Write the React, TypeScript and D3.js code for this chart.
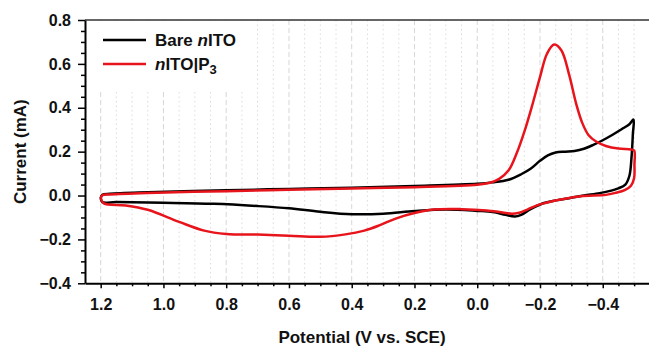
import React, { useEffect, useRef } from "react";
import * as d3 from "d3";

// potential (V vs. SCE), current (mA), upper branch then return branch
const bareE = [1.2, 1.195, 1.17, 1.05, 0.8, 0.6, 0.4, 0.2, 0.0, -0.05, -0.1, -0.14, -0.17, -0.2, -0.225, -0.25, -0.28, -0.31, -0.34, -0.37, -0.4, -0.43, -0.46, -0.485, -0.498,
  -0.496, -0.492, -0.485, -0.472, -0.45, -0.42, -0.39, -0.34, -0.3, -0.25, -0.21, -0.17, -0.14, -0.12, -0.09, -0.05, 0.0, 0.1, 0.2, 0.3, 0.4, 0.5, 0.6, 0.7, 0.84, 1.0, 1.15, 1.195, 1.2];
const bareI = [-0.012, 0.003, 0.008, 0.015, 0.024, 0.03, 0.036, 0.044, 0.054, 0.06, 0.072, 0.097, 0.122, 0.158, 0.183, 0.196, 0.2, 0.203, 0.213, 0.231, 0.252, 0.276, 0.302, 0.325, 0.346,
  0.28, 0.18, 0.09, 0.05, 0.033, 0.02, 0.011, 0.0, -0.01, -0.022, -0.035, -0.062, -0.088, -0.096, -0.088, -0.075, -0.07, -0.064, -0.071, -0.083, -0.085, -0.074, -0.058, -0.048, -0.038, -0.033, -0.03, -0.03, -0.012];

const p3E = [1.2, 1.195, 1.17, 1.05, 0.8, 0.6, 0.4, 0.2, 0.0, -0.04, -0.07, -0.1, -0.125, -0.15, -0.175, -0.2, -0.222, -0.245, -0.268, -0.293, -0.315, -0.335, -0.355, -0.38, -0.41, -0.45, -0.49, -0.5,
  -0.501, -0.5, -0.49, -0.47, -0.44, -0.41, -0.33, -0.27, -0.22, -0.19, -0.16, -0.13, -0.11, -0.07, -0.03, 0.05, 0.14, 0.2, 0.26, 0.31, 0.36, 0.42, 0.5, 0.6, 0.7, 0.8, 0.87, 0.95, 1.05, 1.12, 1.19, 1.2];
const p3I = [-0.012, 0.001, 0.005, 0.012, 0.02, 0.026, 0.032, 0.038, 0.049, 0.058, 0.076, 0.115, 0.19, 0.29, 0.41, 0.54, 0.645, 0.688, 0.662, 0.55, 0.42, 0.33, 0.275, 0.245, 0.226, 0.214, 0.21, 0.205,
  0.14, 0.08, 0.045, 0.025, 0.012, 0.003, -0.003, -0.017, -0.033, -0.045, -0.064, -0.08, -0.083, -0.075, -0.068, -0.062, -0.064, -0.08, -0.105, -0.135, -0.16, -0.177, -0.188, -0.183, -0.178, -0.175, -0.16, -0.12, -0.065, -0.045, -0.036, -0.012];

const xTicks = [1.2, 1.0, 0.8, 0.6, 0.4, 0.2, 0.0, -0.2, -0.4];
const yTicks = [-0.4, -0.2, 0.0, 0.2, 0.4, 0.6, 0.8];

export default function App() {
  const svgRef = useRef(null);

  useEffect(() => {
    const width = 649;
    const height = 347;
    const svg = d3.select(svgRef.current);
    svg.selectAll("*").remove();
    svg.attr("width", width).attr("height", height);

    const x = d3.scaleLinear().domain([1.25, -0.6]).range([85, 665.5]);
    const y = d3.scaleLinear().domain([-0.4, 0.8]).range([283.3, 20]);
    const font = "'Liberation Sans', Arial, sans-serif";

    // vertical grid: dashed at majors, dotted at minors
    const minors = d3.range(-0.55, 1.25, 0.05).map(v => Math.round(v * 100) / 100)
      .filter(v => !xTicks.some(t => Math.abs(t - v) < 1e-6));
    svg.append("g").selectAll("line").data(minors).enter().append("line")
      .attr("x1", d => x(d)).attr("x2", d => x(d))
      .attr("y1", y(0.8)).attr("y2", y(-0.4))
      .attr("stroke", "#dcdcdc").attr("stroke-width", 1).attr("stroke-dasharray", "1.5,3");
    svg.append("g").selectAll("line").data(xTicks).enter().append("line")
      .attr("x1", d => x(d)).attr("x2", d => x(d))
      .attr("y1", y(0.8)).attr("y2", y(-0.4))
      .attr("stroke", "#d6d6d6").attr("stroke-width", 1).attr("stroke-dasharray", "5,3");

    // legend background hides grid
    svg.append("rect").attr("x", 86).attr("y", 21).attr("width", 164).attr("height", 71).attr("fill", "#fff");

    // curves
    const line = d3.line<number>()
      .x(d => x(d[0])).y(d => y(d[1]))
      .curve(d3.curveCatmullRom.alpha(0.5));
    const bare = bareE.map((e, i) => [e, bareI[i]]);
    const p3 = p3E.map((e, i) => [e, p3I[i]]);
    svg.append("path").attr("d", line(bare as any)).attr("fill", "none")
      .attr("stroke", "#000").attr("stroke-width", 2.5).attr("stroke-linejoin", "round");
    svg.append("path").attr("d", line(p3 as any)).attr("fill", "none")
      .attr("stroke", "#e8141c").attr("stroke-width", 2.5).attr("stroke-linejoin", "round");

    // top frame
    svg.append("line").attr("x1", 85).attr("x2", width).attr("y1", 20).attr("y2", 20)
      .attr("stroke", "#333").attr("stroke-width", 1.5);

    // axes
    const xAxis = d3.axisBottom(x).tickValues(xTicks).tickSize(5).tickSizeOuter(0)
      .tickFormat(d3.format(".1f"));
    const gx = svg.append("g").attr("transform", `translate(0,${y(-0.4)})`).call(xAxis);
    gx.select(".domain").attr("stroke-width", 2);
    gx.selectAll("text").attr("font-family", font).attr("font-weight", "bold")
      .attr("font-size", 16).attr("fill", "#111").attr("dy", "1.2em");
    const gxm = svg.append("g").attr("transform", `translate(0,${y(-0.4)})`)
      .call(d3.axisBottom(x).tickValues(minors).tickSize(3).tickSizeOuter(0).tickFormat(() => ""));
    gxm.select(".domain").remove();

    const yAxis = d3.axisLeft(y).tickValues(yTicks).tickSize(7).tickSizeOuter(0)
      .tickFormat(d3.format(".1f"));
    const gy = svg.append("g").attr("transform", `translate(85,0)`).call(yAxis);
    gy.select(".domain").attr("stroke-width", 2);
    gy.selectAll("text").attr("font-family", font).attr("font-weight", "bold")
      .attr("font-size", 16).attr("fill", "#111").attr("dx", "-0.25em");
    const yMinors = d3.range(-0.35, 0.8, 0.05).map(v => Math.round(v * 100) / 100)
      .filter(v => !yTicks.some(t => Math.abs(t - v) < 1e-6));
    const gym = svg.append("g").attr("transform", `translate(85,0)`)
      .call(d3.axisLeft(y).tickValues(yMinors).tickSize(4).tickSizeOuter(0).tickFormat(() => ""));
    gym.select(".domain").remove();
    svg.selectAll(".tick line").attr("stroke-width", 1.5);

    // axis titles
    svg.append("text").attr("x", 362).attr("y", 343).attr("text-anchor", "middle")
      .attr("font-family", font).attr("font-weight", "bold").attr("font-size", 17).attr("fill", "#111")
      .text("Potential (V vs. SCE)");
    svg.append("text").attr("transform", `translate(26,${y(0.2)}) rotate(-90)`).attr("text-anchor", "middle")
      .attr("font-family", font).attr("font-weight", "bold").attr("font-size", 17).attr("fill", "#111")
      .text("Current (mA)");

    // legend
    const leg = svg.append("g").attr("font-family", font).attr("font-weight", "bold")
      .attr("font-size", 17).attr("fill", "#111");
    leg.append("line").attr("x1", 103).attr("x2", 146).attr("y1", 40).attr("y2", 40)
      .attr("stroke", "#000").attr("stroke-width", 2.5);
    leg.append("line").attr("x1", 103).attr("x2", 146).attr("y1", 64).attr("y2", 64)
      .attr("stroke", "#e8141c").attr("stroke-width", 2.5);
    const t1 = leg.append("text").attr("x", 155).attr("y", 46);
    t1.append("tspan").text("Bare ");
    t1.append("tspan").attr("font-style", "italic").text("n");
    t1.append("tspan").text("ITO");
    const t2 = leg.append("text").attr("x", 155).attr("y", 70);
    t2.append("tspan").attr("font-style", "italic").text("n");
    t2.append("tspan").text("ITO|P");
    t2.append("tspan").attr("font-size", 13).attr("dy", 4).text("3");
  }, []);

  return (
    <div>
      <svg ref={svgRef} style={{ position: "absolute", left: 0, top: 0, background: "#fff" }}></svg>
    </div>
  );
}
